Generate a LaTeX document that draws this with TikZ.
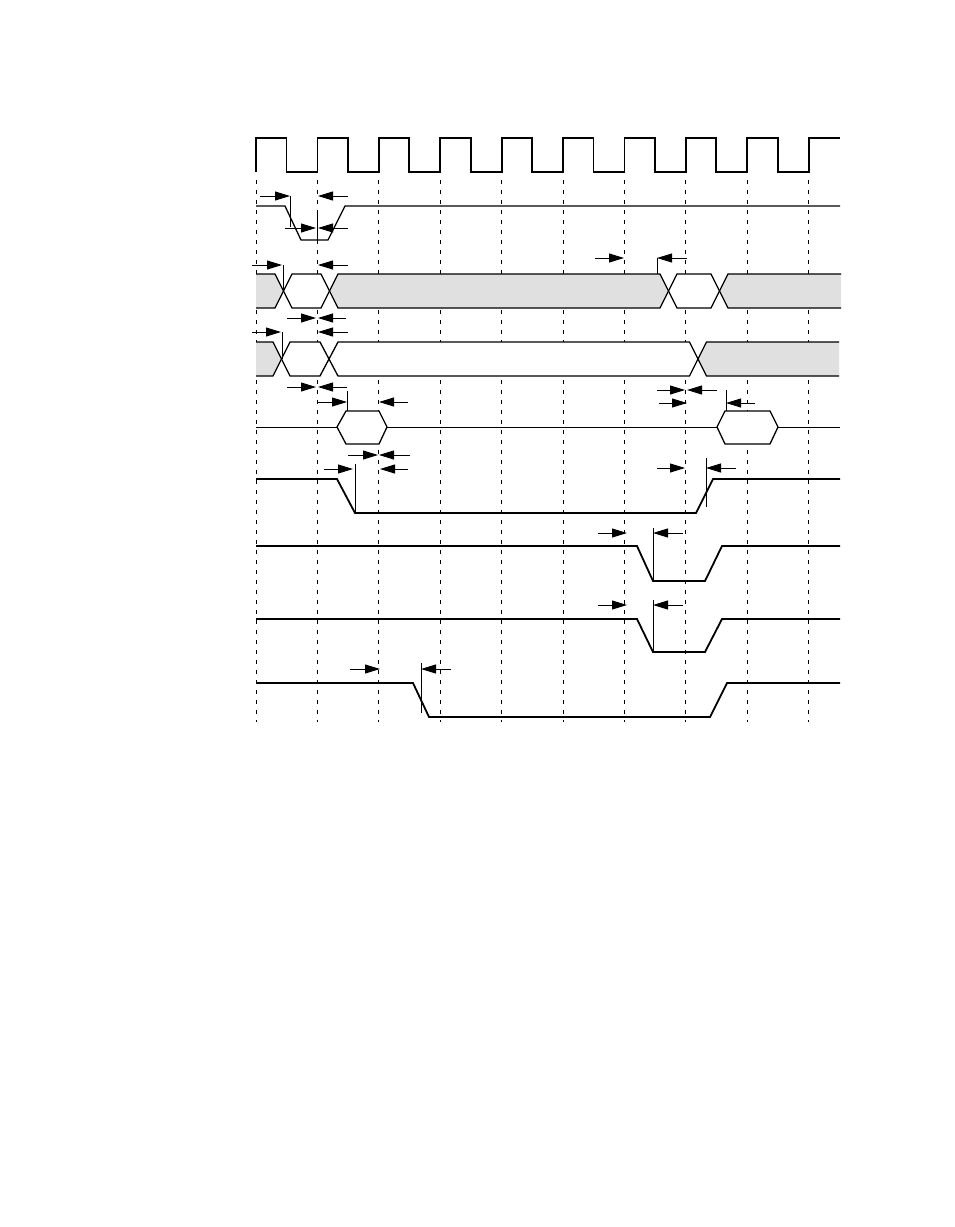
\documentclass[tikz,border=0pt]{standalone}
\usetikzlibrary{arrows.meta}
\begin{document}
\begin{tikzpicture}[x=1pt,y=-1pt,
    clk/.style={line width=1.8pt},
    sig/.style={line width=1.8pt},
    bus/.style={line width=1.3pt},
    grid/.style={line width=.8pt,dash pattern=on 4pt off 6pt},
    dim/.style={line width=1pt,-{Triangle[length=15pt,width=9pt]}},
    tick/.style={line width=1pt},
    shade/.style={fill=black!12}]
    \useasboundingbox (0,0) rectangle (954,1227);
    \foreach \k in {0,...,9}
      \draw[grid] ({256+61.4*\k},180) -- ({256+61.4*\k},722);
    \draw[clk] (256,172) foreach \k in {0,...,8} {-- ++(0,-34) -- ++(30.5,0) -- ++(0,34) -- ++(30.9,0)} -- ++(0,-34) -- (840,138);
    \draw[line width=1.3pt] (256,206) -- (285,206) -- (301,240) -- (328,240) -- (345,206) -- (840,206);
    \fill[shade] (256,274) -- (275,274) -- (283.5,291) -- (275,308) -- (256,308) -- cycle;
    \fill[white] (283.5,291) -- (292,274) -- (321,274) -- (329.5,291) -- (321,308) -- (292,308) -- cycle;
    \fill[shade] (329.5,291) -- (338,274) -- (660,274) -- (668.5,291) -- (660,308) -- (338,308) -- cycle;
    \fill[white] (668.5,291) -- (677,274) -- (711,274) -- (719.5,291) -- (711,308) -- (677,308) -- cycle;
    \fill[shade] (719.5,291) -- (728,274) -- (841,274) -- (841,308) -- (728,308) -- cycle;
    \draw[bus] (256,274) -- (275,274) -- (292,308) -- (321,308) -- (338,274) -- (660,274) -- (677,308) -- (711,308) -- (728,274) -- (841,274);
    \draw[bus] (256,308) -- (275,308) -- (292,274) -- (321,274) -- (338,308) -- (660,308) -- (677,274) -- (711,274) -- (728,308) -- (841,308);
    \fill[shade] (256,342) -- (273,342) -- (281.5,359) -- (273,376) -- (256,376) -- cycle;
    \fill[white] (281.5,359) -- (290,342) -- (320,342) -- (329,359) -- (320,376) -- (290,376) -- cycle;
    \fill[white] (329,359) -- (338,342) -- (689.5,342) -- (698,359) -- (689.5,376) -- (338,376) -- cycle;
    \fill[shade] (698,359) -- (706.5,342) -- (839,342) -- (839,376) -- (706.5,376) -- cycle;
    \draw[bus] (256,342) -- (273,342) -- (290,376) -- (320,376) -- (338,342) -- (689.5,342) -- (706.5,376) -- (839,376);
    \draw[bus] (256,376) -- (273,376) -- (290,342) -- (320,342) -- (338,376) -- (689.5,376) -- (706.5,342) -- (839,342);
    \draw[line width=1pt] (256,427) -- (337,427) (387,427) -- (717,427) (778,427) -- (840,427);
    \draw[bus,fill=white] (337,427) -- (346,411) -- (379,411) -- (387,427) -- (379,444) -- (346,444) -- cycle;
    \draw[bus,fill=white] (717,427) -- (725,411) -- (770,411) -- (778,427) -- (770,444) -- (725,444) -- cycle;
    \draw[sig] (256,479) -- (337,479) -- (355,513) -- (696,513) -- (713,479) -- (840,479);
    \draw[sig] (256,546) -- (637,546) -- (653,581) -- (705,581) -- (722,546) -- (840,546);
    \draw[sig] (256,619) -- (637,619) -- (653,652) -- (705,652) -- (722,619) -- (840,619);
    \draw[sig] (256,683) -- (413,683) -- (429,717) -- (710,717) -- (727,683) -- (840,683);
    \draw[dim] (260,196) -- (290,196);
    \draw[tick] (290,196) -- (290,227);
    \draw[dim] (348,196) -- (318,196);
    \draw[dim] (285,228) -- (316,228);
    \draw[dim] (348,228) -- (318,228);
    \draw[tick] (317,213) -- (317,240);
    \draw[dim] (252,265) -- (282,265);
    \draw[tick] (283,265) -- (283,291);
    \draw[dim] (348,265) -- (318,265);
    \draw[dim] (287,318) -- (316,318);
    \draw[dim] (346,318) -- (318,318);
    \draw[dim] (595,258) -- (624,258);
    \draw[dim] (687,258) -- (657,258);
    \draw[tick] (657,258) -- (657,274);
    \draw[dim] (252,332) -- (281,332);
    \draw[tick] (282,332) -- (282,359);
    \draw[dim] (348,332) -- (318,332);
    \draw[dim] (287,387) -- (316,387);
    \draw[dim] (347,387) -- (318,387);
    \draw[dim] (317,402) -- (347,402);
    \draw[tick] (347,391) -- (347,411);
    \draw[dim] (408,402) -- (379,402);
    \draw[dim] (657,390) -- (685,390);
    \draw[dim] (717,390) -- (687,390);
    \draw[dim] (659,403) -- (687,403);
    \draw[dim] (755,403) -- (726,403);
    \draw[tick] (726,390) -- (726,411);
    \draw[dim] (348,455) -- (378,455);
    \draw[dim] (410,455) -- (379,455);
    \draw[dim] (324,469) -- (353,469);
    \draw[tick] (355,464) -- (355,513);
    \draw[dim] (408,469) -- (380,469);
    \draw[dim] (657,468) -- (685,468);
    \draw[dim] (736,468) -- (706,468);
    \draw[tick] (706,458) -- (706,507);
    \draw[dim] (598,533) -- (627,533);
    \draw[dim] (683,533) -- (653,533);
    \draw[tick] (653,528) -- (653,580);
    \draw[dim] (598,605) -- (627,605);
    \draw[dim] (683,605) -- (653,605);
    \draw[tick] (653,600) -- (653,652);
    \draw[dim] (350,669) -- (380,669);
    \draw[dim] (451,669) -- (421,669);
    \draw[tick] (421,663) -- (421,713);
  \end{tikzpicture}
\end{document}
